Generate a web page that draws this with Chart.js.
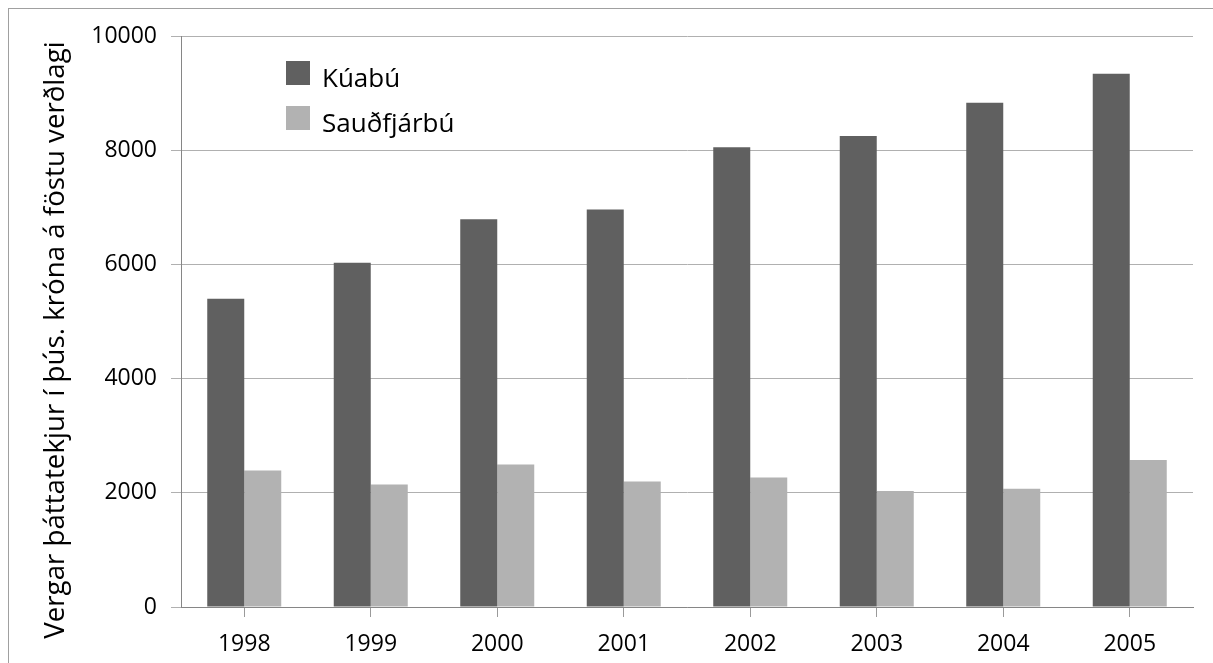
<!DOCTYPE html>
<html>
<head>
<meta charset="utf-8">
<script src="https://cdn.jsdelivr.net/npm/chart.js@4.4.1/dist/chart.umd.min.js"></script>
<style>
    body { margin: 0; background: #fff; }
    .wrap { position: relative; width: 1213px; height: 663px; overflow: hidden; }
    .frame {
        position: absolute; left: 8px; top: 8px; width: 1300px; height: 700px;
        border-left: 1px solid #a0a0a0; border-top: 1px solid #a0a0a0;
    }
    canvas { position: absolute; left: 0; top: 0; }
</style>
</head>
<body>
<div class="wrap">
    <div class="frame"></div>
    <canvas id="chart" width="1213" height="663"></canvas>
</div>
<script>
// Data
const years = ['1998', '1999', '2000', '2001', '2002', '2003', '2004', '2005'];
const kuabu = [5400, 6030, 6790, 6960, 8050, 8250, 8830, 9340];
const saudfjarbu = [2390, 2145, 2495, 2200, 2270, 2030, 2070, 2575];
const seriesNames = ['Kúabú', 'Sauðfjárbú'];
const yTitle = 'Vergar þáttatekjur í þús. króna á föstu verðlagi';

const FONT = '"Open Sans", Lato, sans-serif';

// legend stacked inside the plot + rotated axis title
const overlay = {
    id: 'overlay',
    afterDraw(chart) {
        const ctx = chart.ctx;
        ctx.save();
        ctx.font = '26px ' + FONT;
        ctx.textBaseline = 'alphabetic';
        ctx.textAlign = 'left';
        chart.data.datasets.forEach((ds, i) => {
            const y = 61 + i * 45;
            ctx.fillStyle = ds.backgroundColor;
            ctx.fillRect(286, y, 24, 24);
            ctx.fillStyle = '#000';
            ctx.fillText(ds.label, 322, y + 26);
        });
        // title in the original runs about 600px along the axis
        ctx.font = '100px ' + FONT;
        const size = Math.min(30, 100 * 598 / ctx.measureText(yTitle).width);
        ctx.font = size.toFixed(1) + 'px ' + FONT;
        ctx.translate(64, 340);
        ctx.rotate(-Math.PI / 2);
        ctx.textAlign = 'center';
        ctx.fillText(yTitle, 0, 0);
        ctx.restore();
    }
};

new Chart(document.getElementById('chart'), {
    type: 'bar',
    data: {
        labels: years,
        datasets: [
            { label: seriesNames[0], data: kuabu, backgroundColor: '#606060' },
            { label: seriesNames[1], data: saudfjarbu, backgroundColor: '#b2b2b2' }
        ]
    },
    options: {
        responsive: false,
        animation: false,
        devicePixelRatio: 1,
        layout: { padding: { left: 8, top: 36, right: 20, bottom: 0 } },
        datasets: { bar: { categoryPercentage: 0.585, barPercentage: 1 } },
        plugins: { legend: { display: false }, tooltip: { enabled: false } },
        scales: {
            x: {
                grid: { offset: false, drawOnChartArea: false, tickLength: 10, color: '#9a9a9a' },
                border: { color: '#868686' },
                ticks: { color: '#000', font: { family: FONT, size: 23 }, padding: 14 },
                afterFit: s => { s.height = 56; }
            },
            y: {
                min: 0,
                max: 10000,
                ticks: {
                    stepSize: 2000,
                    color: '#000',
                    font: { family: FONT, size: 23 },
                    padding: 14,
                    callback: v => String(v)
                },
                grid: { color: '#b0b0b0', tickLength: 10 },
                border: { color: '#868686' },
                afterFit: s => { s.width = 173; }
            }
        }
    },
    plugins: [overlay]
});
</script>
</body>
</html>
